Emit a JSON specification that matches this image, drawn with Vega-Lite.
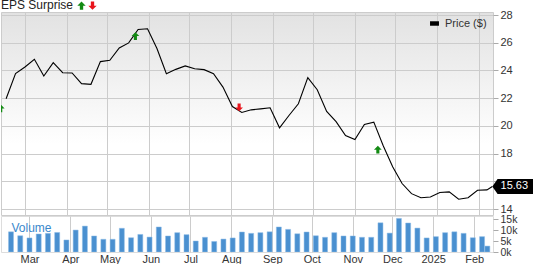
{
  "$schema": "https://vega.github.io/schema/vega-lite/v6.json",
  "padding": {"top": 1, "left": 0, "right": 0, "bottom": 0},
  "background": "white",
  "bounds": "flush",
  "spacing": 1,
  "config": {
    "font": "Liberation Sans",
    "axis": {"labelFont": "Liberation Sans", "labelFontSize": 11, "labelColor": "#333333", "gridColor": "#cccccc", "gridOpacity": 1, "tickColor": "#aaaaaa", "domain": false, "title": null},
    "legend": {"labelFont": "Liberation Sans", "titleFont": "Liberation Sans"}
  },
  "datasets": {
    "weekly": [
      {"date": "2024-02-16", "price": 21.96, "volume": 9200},
      {"date": "2024-02-23", "price": 23.77, "volume": 7400},
      {"date": "2024-03-01", "price": 24.25, "volume": 6400},
      {"date": "2024-03-08", "price": 24.81, "volume": 8200},
      {"date": "2024-03-15", "price": 23.6, "volume": 8500},
      {"date": "2024-03-22", "price": 24.57, "volume": 8900},
      {"date": "2024-03-29", "price": 23.84, "volume": 5500},
      {"date": "2024-04-05", "price": 23.82, "volume": 10000},
      {"date": "2024-04-12", "price": 23.05, "volume": 11800},
      {"date": "2024-04-19", "price": 23.0, "volume": 7300},
      {"date": "2024-04-26", "price": 24.64, "volume": 5800},
      {"date": "2024-05-03", "price": 24.74, "volume": 5800},
      {"date": "2024-05-10", "price": 25.63, "volume": 10800},
      {"date": "2024-05-17", "price": 25.99, "volume": 6500},
      {"date": "2024-05-24", "price": 26.96, "volume": 8000},
      {"date": "2024-05-31", "price": 27.01, "volume": 6800},
      {"date": "2024-06-07", "price": 25.58, "volume": 11400},
      {"date": "2024-06-14", "price": 23.77, "volume": 7300},
      {"date": "2024-06-21", "price": 24.08, "volume": 8800},
      {"date": "2024-06-28", "price": 24.33, "volume": 7900},
      {"date": "2024-07-05", "price": 24.13, "volume": 5000},
      {"date": "2024-07-12", "price": 24.06, "volume": 6700},
      {"date": "2024-07-19", "price": 23.77, "volume": 4800},
      {"date": "2024-07-26", "price": 22.8, "volume": 5900},
      {"date": "2024-08-02", "price": 21.4, "volume": 6400},
      {"date": "2024-08-09", "price": 20.97, "volume": 9100},
      {"date": "2024-08-16", "price": 21.16, "volume": 8500},
      {"date": "2024-08-23", "price": 21.23, "volume": 8800},
      {"date": "2024-08-30", "price": 21.31, "volume": 9200},
      {"date": "2024-09-06", "price": 19.86, "volume": 11400},
      {"date": "2024-09-13", "price": 20.75, "volume": 10300},
      {"date": "2024-09-20", "price": 21.6, "volume": 8300},
      {"date": "2024-09-27", "price": 23.48, "volume": 9100},
      {"date": "2024-10-04", "price": 22.61, "volume": 7400},
      {"date": "2024-10-11", "price": 21.04, "volume": 6700},
      {"date": "2024-10-18", "price": 20.31, "volume": 8800},
      {"date": "2024-10-25", "price": 19.3, "volume": 7300},
      {"date": "2024-11-01", "price": 19.01, "volume": 7300},
      {"date": "2024-11-08", "price": 20.1, "volume": 6700},
      {"date": "2024-11-15", "price": 20.27, "volume": 6700},
      {"date": "2024-11-22", "price": 18.57, "volume": 13300},
      {"date": "2024-11-29", "price": 17.05, "volume": 8600},
      {"date": "2024-12-06", "price": 15.84, "volume": 15300},
      {"date": "2024-12-13", "price": 15.11, "volume": 13200},
      {"date": "2024-12-20", "price": 14.82, "volume": 10900},
      {"date": "2024-12-27", "price": 14.87, "volume": 6400},
      {"date": "2025-01-03", "price": 15.19, "volume": 7000},
      {"date": "2025-01-10", "price": 15.24, "volume": 8800},
      {"date": "2025-01-17", "price": 14.71, "volume": 9200},
      {"date": "2025-01-24", "price": 14.82, "volume": 8500},
      {"date": "2025-01-31", "price": 15.36, "volume": 6500},
      {"date": "2025-02-07", "price": 15.38, "volume": 7000},
      {"date": "2025-02-11", "price": 15.63, "volume": 2700}
    ],
    "eps": [
      {"date": "2024-02-12", "price": 21.26, "eps": "Beat"},
      {"date": "2024-05-22", "price": 26.48, "eps": "Beat"},
      {"date": "2024-08-07", "price": 21.33, "eps": "Miss"},
      {"date": "2024-11-18", "price": 18.28, "eps": "Beat"}
    ]
  },
  "vconcat": [
    {
      "width": 492,
      "height": 203,
      "view": {
        "stroke": "#cccccc",
        "fill": {"gradient": "linear", "x1": 0, "y1": 0, "x2": 0, "y2": 1, "stops": [{"offset": 0, "color": "#e2e2e2"}, {"offset": 0.65, "color": "#ffffff"}, {"offset": 1, "color": "#ffffff"}]}
      },
      "encoding": {
        "x": {
          "field": "date", "type": "temporal",
          "scale": {"domain": [{"year": 2024, "month": 2, "date": 12, "hours": 5}, {"year": 2025, "month": 2, "date": 11, "hours": 12}]},
          "axis": {"labels": false, "ticks": false, "grid": true, "tickCount": {"interval": "month", "step": 1}}
        },
        "y": {
          "field": "price", "type": "quantitative",
          "scale": {"domain": [13.57, 28.22], "nice": false, "zero": false},
          "axis": {"orient": "right", "values": [14, 16, 18, 20, 22, 24, 26, 28], "tickSize": 5, "labelPadding": 2, "grid": true, "labelExpr": "datum.value == 16 ? '' : datum.label"}
        }
      },
      "layer": [
        {
          "data": {"name": "weekly"},
          "mark": {"type": "line", "strokeWidth": 1.1},
          "encoding": {
            "stroke": {
              "datum": "Price ($)",
              "scale": {"range": ["#000000"]},
              "legend": {
                "title": null, "orient": "top-right", "offset": 6,
                "symbolType": "M-1,-0.5H1V0.5H-1Z", "symbolSize": 80, "symbolStrokeWidth": 0,
                "labelFontSize": 11, "labelColor": "#333333", "labelOffset": 5,
                "encode": {"symbols": {"update": {"fill": {"value": "#000000"}}}}
              }
            }
          }
        },
        {
          "data": {"name": "eps"},
          "mark": {"type": "point", "filled": true, "size": 60, "opacity": 1, "clip": true, "strokeWidth": 0},
          "encoding": {
            "shape": {
              "field": "eps", "type": "nominal",
              "scale": {"domain": ["Beat", "Miss"], "range": ["M0,-1L1,0L0.4,0L0.4,1L-0.4,1L-0.4,0L-1,0Z", "M0,1L1,0L0.4,0L0.4,-1L-0.4,-1L-0.4,0L-1,0Z"]},
              "legend": {
                "title": "EPS Surprise", "orient": "none", "legendX": 0, "legendY": -11, "direction": "horizontal", "titleOrient": "left",
                "titleFontSize": 12, "titleFontWeight": "normal", "titleColor": "#222222", "titlePadding": 3,
                "labelExpr": "''", "labelOffset": 0, "labelFontSize": 1, "columnPadding": 2, "symbolSize": 70, "symbolStrokeWidth": 0, "padding": 0
              }
            },
            "fill": {
              "field": "eps", "type": "nominal",
              "scale": {"domain": ["Beat", "Miss"], "range": ["#138a13", "#e8141c"]},
              "legend": {
                "title": "EPS Surprise", "orient": "none", "legendX": 0, "legendY": -11, "direction": "horizontal", "titleOrient": "left",
                "titleFontSize": 12, "titleFontWeight": "normal", "titleColor": "#222222", "titlePadding": 3,
                "labelExpr": "''", "labelOffset": 0, "labelFontSize": 1, "columnPadding": 2, "symbolSize": 70, "symbolStrokeWidth": 0, "padding": 0
              }
            }
          }
        },
        {
          "data": {"name": "weekly"},
          "transform": [{"filter": "time(datum.date) >= time(datetime(2025, 1, 10))"}],
          "mark": {"type": "point", "filled": true, "opacity": 1, "color": "#000000", "strokeWidth": 0, "size": 1764, "shape": "M0,0L0.25,-0.36L2,-0.36L2,0.36L0.25,0.36Z"}
        },
        {
          "data": {"name": "weekly"},
          "transform": [{"filter": "time(datum.date) >= time(datetime(2025, 1, 10))"}],
          "mark": {"type": "text", "color": "#ffffff", "fontSize": 11, "dx": 22, "align": "center", "baseline": "middle", "font": "Liberation Sans"},
          "encoding": {"text": {"field": "price", "type": "quantitative", "format": ".2f"}}
        }
      ]
    },
    {
      "width": 492,
      "height": 36,
      "data": {"name": "weekly"},
      "view": {"stroke": "#dddddd", "fill": "#ffffff"},
      "mark": {"type": "bar", "width": 5, "color": "#4a90d0", "stroke": "#8fbce6", "strokeWidth": 0.5, "clip": true},
      "encoding": {
        "x": {
          "field": "date", "type": "temporal",
          "scale": {"domain": [{"year": 2024, "month": 2, "date": 12, "hours": 5}, {"year": 2025, "month": 2, "date": 11, "hours": 12}]},
          "axis": {"ticks": false, "grid": true, "labelPadding": 1, "tickCount": {"interval": "month", "step": 1}, "labelExpr": "month(datum.value) == 0 ? timeFormat(datum.value, '%Y') : timeFormat(datum.value, '%b')"}
        },
        "y": {
          "field": "volume", "type": "quantitative",
          "scale": {"domain": [0, 16400], "nice": false},
          "axis": {
            "orient": "right", "values": [0, 5000, 10000, 15000], "format": "~s", "tickSize": 5, "labelPadding": 2, "labelFontSize": 10.5, "grid": false,
            "title": "Volume", "titleAngle": 0, "titleX": -482, "titleY": 11, "titleAlign": "left", "titleBaseline": "middle",
            "titleColor": "#3a88cc", "titleFontSize": 12, "titleFontWeight": "normal", "titleFont": "Liberation Sans"
          }
        }
      }
    }
  ]
}
